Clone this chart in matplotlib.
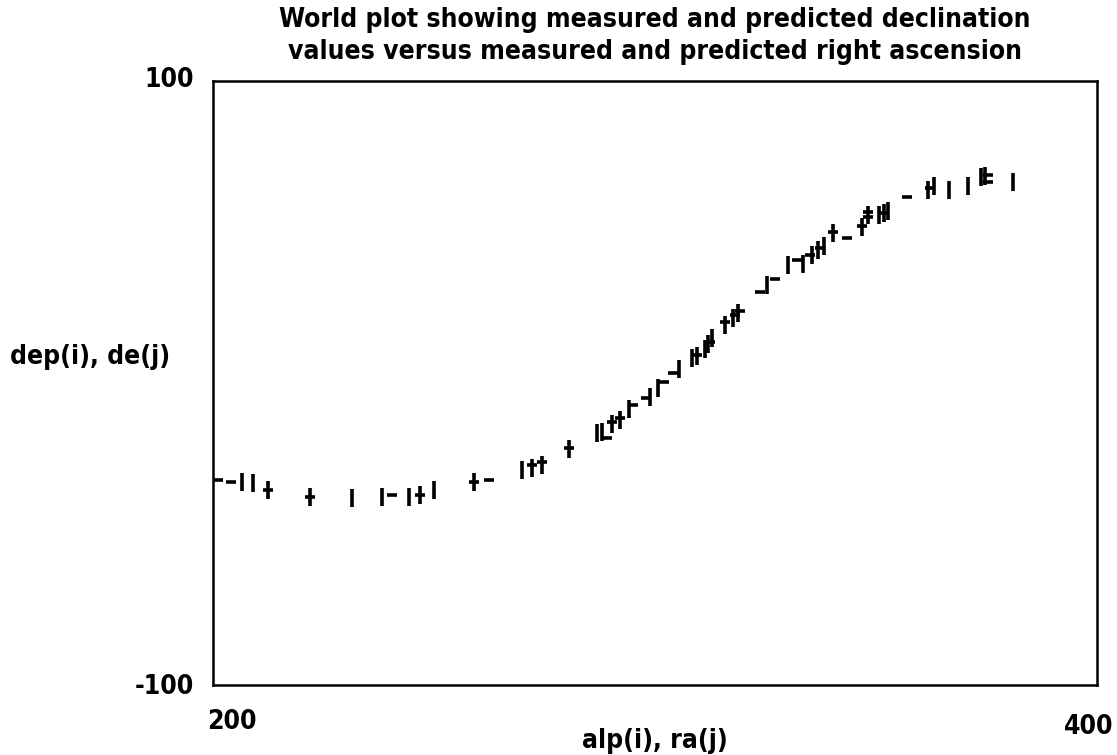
import matplotlib
matplotlib.use("Agg")
import matplotlib.pyplot as plt

# measured right ascension / declination (drawn as '|')
ra = [206.6, 209.0, 212.4, 221.9, 231.4, 238.2, 244.3, 246.8, 250.0, 259.0,
      269.9, 272.2, 274.4, 280.5, 286.9, 288.0, 290.3, 292.1, 294.1, 298.9,
      300.7, 305.4, 308.4, 309.5, 311.3, 312.0, 312.9, 315.8, 317.6, 318.8,
      325.3, 330.1, 333.5, 335.5, 336.9, 338.2, 340.3, 346.8, 348.2, 350.7,
      351.8, 352.7, 361.8, 363.1, 366.5, 370.8, 373.8, 374.7, 381.0]
de = [-32.8, -33.1, -35.4, -37.7, -38.1, -37.7, -37.7, -37.1, -35.4, -32.8,
      -28.8, -28.1, -27.2, -21.9, -16.6, -16.2, -13.6, -12.3, -8.6, -4.6,
      -1.7, 4.6, 8.3, 8.9, 11.3, 12.9, 14.9, 19.2, 21.5, 23.2,
      32.5, 39.1, 39.4, 42.4, 44.0, 45.4, 49.7, 51.7, 55.6, 55.6,
      56.3, 57.0, 63.9, 65.2, 63.9, 65.2, 68.2, 68.5, 66.6]

# predicted right ascension / declination (drawn as '_')
alp = [201.1, 204.1, 212.4, 221.9, 240.5, 246.8, 259.0, 262.4, 272.2, 274.4,
       280.5, 289.1, 290.3, 292.1, 295.0, 298.0, 302.0, 304.1, 309.5, 312.4,
       315.8, 318.1, 319.2, 323.8, 327.1, 332.1, 335.1, 337.3, 340.3, 343.4,
       346.8, 348.2, 348.2, 351.8, 357.0, 362.2, 375.3, 375.3]
dep = [-32.1, -32.8, -35.4, -37.7, -37.1, -37.1, -32.8, -32.1, -27.2, -26.2,
       -21.5, -18.2, -12.9, -11.6, -7.3, -5.0, 0.3, 3.3, 9.3, 13.6,
       20.2, 22.5, 23.8, 30.1, 34.4, 40.7, 42.4, 44.7, 50.0, 48.0,
       52.0, 56.6, 55.0, 56.3, 61.6, 64.6, 68.9, 66.6]

x_range = [200, 400]
y_range = [-100, 100]

title_lines = ["World plot showing measured and predicted declination",
               "values versus measured and predicted right ascension"]
xlabel = "alp(i), ra(j)"
ylabel = "dep(i), de(j)"

W, H = 1117, 755
fig = plt.figure(figsize=(W / 100, H / 100), dpi=100)
ax = fig.add_axes([213 / W, 1 - 685 / H, (1097 - 213) / W, (685 - 81) / H])

ax.plot(ra, de, linestyle='none', marker='|', markersize=12.5,
        markeredgewidth=2.6, color='black', clip_on=True)
ax.plot(alp, dep, linestyle='none', marker='_', markersize=6.5,
        markeredgewidth=2.6, color='black', clip_on=True)

ax.set_xlim(*x_range)
ax.set_ylim(*y_range)
ax.set_xticks([])
ax.set_yticks([])
for s in ax.spines.values():
    s.set_linewidth(1.8)
    s.set_color('black')

font = dict(family='DejaVu Sans', fontstretch='condensed', fontweight='bold',
            color='black')
fs = 19

fig.text(655 / W, 1 - 20 / H, title_lines[0], ha='center', va='center',
         fontsize=fs, **font)
fig.text(655 / W, 1 - 52 / H, title_lines[1], ha='center', va='center',
         fontsize=fs, **font)

fig.text(194 / W, 1 - 80 / H, str(y_range[1]), ha='right', va='center',
         fontsize=fs, **font)
fig.text(194 / W, 1 - 687 / H, str(y_range[0]), ha='right', va='center',
         fontsize=fs, **font)
fig.text(232 / W, 1 - 722 / H, str(x_range[0]), ha='center', va='center',
         fontsize=fs, **font)
fig.text(1089 / W, 1 - 727 / H, str(x_range[1]), ha='center', va='center',
         fontsize=fs, **font)

fig.text(655 / W, 1 - 741 / H, xlabel, ha='center', va='center',
         fontsize=fs, **font)
fig.text(90 / W, 1 - 357 / H, ylabel, ha='center', va='center',
         fontsize=fs, **font)

fig.savefig("out.png", dpi=100, facecolor='white')
